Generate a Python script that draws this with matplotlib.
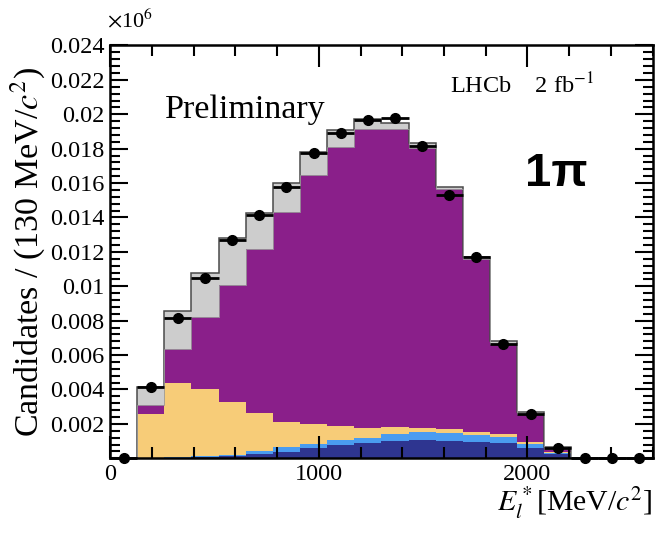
import numpy as np
import matplotlib
matplotlib.use("Agg")
import matplotlib.pyplot as plt
from matplotlib.ticker import MultipleLocator

plt.rcParams['font.family'] = ['Liberation Serif', 'DejaVu Serif']
plt.rcParams['mathtext.fontset'] = 'stix'

# 20 bins of 130 MeV from 0 to 2600
bin_edges = np.arange(0, 2601, 130)

# stacked components (bottom -> top), units of 10^6 candidates
dark_blue = [0, 0, 0.00003, 0.00008, 0.00012, 0.00023, 0.00038, 0.00062, 0.00077, 0.00087,
             0.00101, 0.00108, 0.00102, 0.00095, 0.00088, 0.00060, 0.00025, 0, 0, 0]
light_blue = [0, 0, 0.00002, 0.00004, 0.00008, 0.00017, 0.00025, 0.00023, 0.00027, 0.00031,
              0.00039, 0.00042, 0.00043, 0.00040, 0.00034, 0.00022, 0.00008, 0, 0, 0]
yellow = [0, 0.00258, 0.00435, 0.00389, 0.00305, 0.00224, 0.00150, 0.00114, 0.00082, 0.00056,
          0.00043, 0.00028, 0.00025, 0.00020, 0.00019, 0.00010, 0.00005, 0, 0, 0]
purple = [0, 0.00052, 0.00195, 0.00422, 0.00685, 0.00951, 0.01221, 0.01448, 0.01626, 0.01739,
          0.01730, 0.01628, 0.01394, 0.01002, 0.00524, 0.00163, 0.00017, 0, 0, 0]
grey = [0, 0.00102, 0.00221, 0.00252, 0.00269, 0.00213, 0.00166, 0.00136, 0.00098, 0.00057,
        0.00035, 0.00025, 0.00015, 0.00015, 0.00015, 0.00015, 0.00009, 0, 0, 0]

# data points
data = [0, 0.00415, 0.00818, 0.01050, 0.01267, 0.01415, 0.01580, 0.01776, 0.01890, 0.01967,
        0.01980, 0.01817, 0.01531, 0.01169, 0.00665, 0.00258, 0.00060, 0, 0, 0]

ytick_vals = [0.002, 0.004, 0.006, 0.008, 0.01, 0.012, 0.014, 0.016, 0.018, 0.02, 0.022, 0.024]
ytick_labels = ["0.002", "0.004", "0.006", "0.008", "0.01", "0.012", "0.014", "0.016",
                "0.018", "0.02", "0.022", "0.024"]

components = [dark_blue, light_blue, yellow, purple, grey]
colors = ['#2e3590', '#4a9cf0', '#f7cc78', '#8a1f8a', '#cdcdcd']

fig = plt.figure(figsize=(6.58, 5.41), dpi=100)
ax = fig.add_axes([0.1672, 0.1529, 0.8248, 0.763])

left = bin_edges[:-1]
width = np.diff(bin_edges)
bottom = np.zeros(len(left))
for comp, col in zip(components, colors):
    comp = np.array(comp)
    ax.bar(left, comp, width=width, bottom=bottom, align='edge', color=col, linewidth=0)
    bottom = bottom + comp

# outline of total and top of signal
ax.stairs(bottom, bin_edges, color='#4a4a4a', linewidth=1.1)
ax.stairs(bottom - np.array(grey), bin_edges, color='#9a9a9a', linewidth=0.6)

centers = 0.5 * (bin_edges[:-1] + bin_edges[1:])
ax.errorbar(centers, data, xerr=width / 2, fmt='o', color='black', markersize=7,
            elinewidth=2, capsize=0, zorder=5, clip_on=False)

ax.set_xlim(0, 2600)
ax.set_ylim(0, 0.024)
ax.set_xticks([0, 1000, 2000])
ax.xaxis.set_minor_locator(MultipleLocator(200))
ax.set_yticks(ytick_vals)
ax.set_yticklabels(ytick_labels)
ax.yaxis.set_minor_locator(MultipleLocator(0.0004))
ax.tick_params(which='both', direction='in', top=True, right=True, width=1.5,
               labelsize=17.5, pad=4)
ax.tick_params(which='major', length=13)
ax.tick_params(which='minor', length=7)
ax.tick_params(axis='x', which='major', length=16)
ax.tick_params(axis='x', which='minor', length=8)
for sp in ax.spines.values():
    sp.set_linewidth(1.8)

ax.set_ylabel("Candidates / (130 MeV/$c^2$)", fontsize=24.5, labelpad=2)
ax.set_xlabel("$E_l^*$[MeV/$c^2$]", fontsize=21.5, loc='right', labelpad=0)

fig.text(0.163, 0.94, r"$\times$10$^6$", fontsize=16, ha='left', va='bottom')
ax.text(0.102, 0.825, "Preliminary", transform=ax.transAxes, fontsize=24.5)
ax.text(0.627, 0.885, "LHCb    2 fb$^{-1}$", transform=ax.transAxes, fontsize=17.5)
ax.text(0.765, 0.66, "1π", transform=ax.transAxes, fontsize=34, fontweight='bold',
        family=['Liberation Sans', 'DejaVu Sans'])

fig.savefig("out.png", dpi=100)
